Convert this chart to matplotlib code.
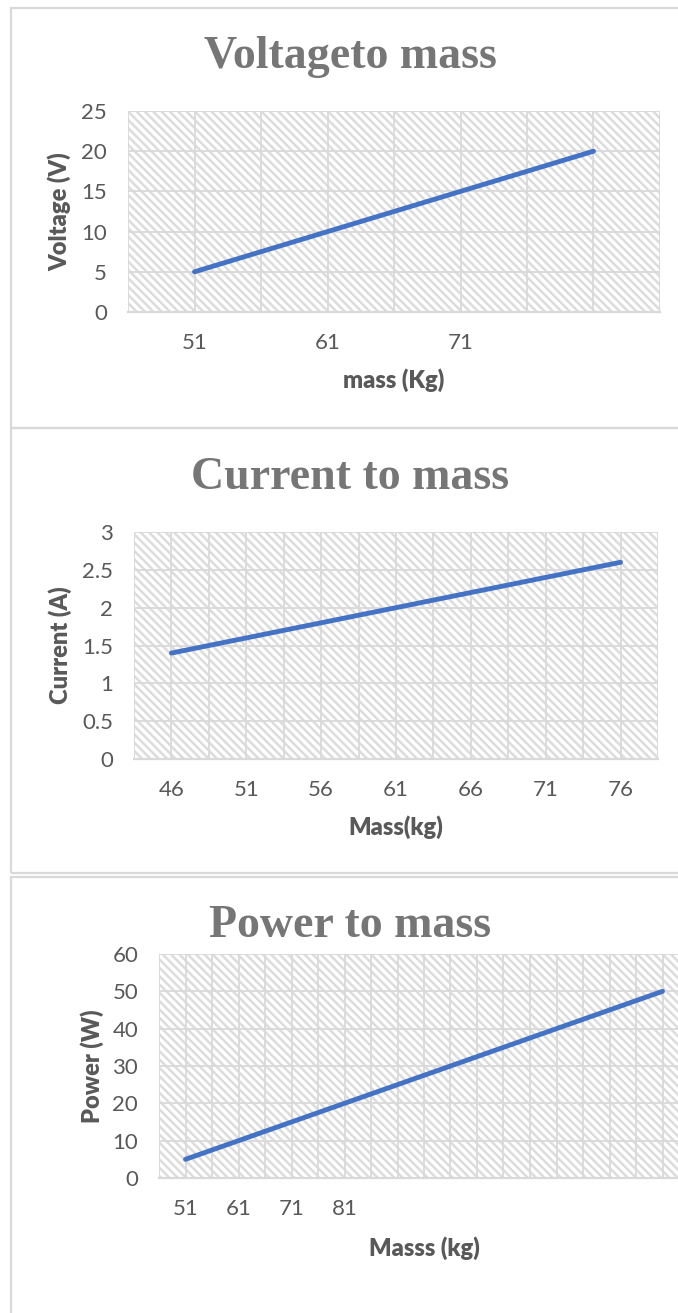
import matplotlib.pyplot as plt
from matplotlib.patches import Rectangle
import numpy as np

# data
mass_v = [51, 61, 71, 81]
voltage = [5, 10, 15, 20]
mass_c = [46, 51, 56, 61, 66, 71, 76]
current = [1.4, 1.6, 1.8, 2.0, 2.2, 2.4, 2.6]
mass_p = [51, 61, 71, 81, 91, 101, 111, 121, 131, 141]
power = [5, 10, 15, 20, 25, 30, 35, 40, 45, 50]

v_xticks = [51, 61, 71]
c_xticks = [46, 51, 56, 61, 66, 71, 76]
p_xticks = [51, 61, 71, 81]

plt.rcParams['hatch.color'] = '#dcdcdc'
plt.rcParams['hatch.linewidth'] = 1.8

blue = '#4472C4'
grey_txt = '#595959'
grid_c = '#d9d9d9'
sans = ['Lato', 'DejaVu Sans']
hatch = chr(92) * 4   # dense "\" stripes like the Excel pattern fill

fig = plt.figure(figsize=(6.78, 13.13), dpi=100)

# chart area borders (pixels -> figure fraction)
W, H = 678.0, 1313.0
def border(x0, y0, x1, y1):
    r = Rectangle((x0 / W, 1 - y1 / H), (x1 - x0) / W, (y1 - y0) / H,
                  transform=fig.transFigure, fill=False, edgecolor=grid_c,
                  linewidth=1.6)
    fig.add_artist(r)

border(11, 8, 700, 428)
border(11, 428, 700, 873)
border(11, 877, 700, 1330)


def make_chart(rect, x, y, xlim, xgrid, xticks, ylim, ystep, title, title_y,
               xlabel, ylabel, xlab_y, ylab_x):
    ax = fig.add_axes(rect)
    ax.add_patch(Rectangle((0, 0), 1, 1, transform=ax.transAxes, facecolor='white',
                           edgecolor='#dcdcdc', hatch=hatch, linewidth=0, zorder=0))
    ax.plot(x, y, color=blue, linewidth=3.5, solid_capstyle='round', zorder=3)
    ax.set_xlim(xlim)
    ax.set_ylim(ylim)
    ax.set_xticks(xgrid, minor=True)
    ax.set_xticks(xticks)
    ax.set_xticklabels([str(t) for t in xticks])
    yt = np.arange(ylim[0], ylim[1] + ystep / 2, ystep)
    ax.set_yticks(yt)
    ax.set_yticklabels(['%g' % t for t in yt])
    ax.set_axisbelow(True)
    ax.grid(True, which='both', color=grid_c, linewidth=1.3)
    for s in ['top', 'right', 'left']:
        ax.spines[s].set_visible(False)
    ax.spines['bottom'].set_color(grid_c)
    ax.spines['bottom'].set_linewidth(1.6)
    ax.tick_params(which='both', length=0)
    ax.tick_params(axis='x', pad=15, labelsize=16, labelcolor=grey_txt)
    ax.tick_params(axis='y', pad=15, labelsize=16, labelcolor=grey_txt)
    for lab in ax.get_xticklabels() + ax.get_yticklabels():
        lab.set_family(sans)
    ax.set_xlabel(xlabel, fontsize=17, fontweight='heavy', color=grey_txt,
                  family=sans, va='center')
    ax.xaxis.set_label_coords(0.5, xlab_y)
    ax.set_ylabel(ylabel, fontsize=17, fontweight='heavy', color=grey_txt,
                  family=sans, va='center')
    ax.yaxis.set_label_coords(ylab_x, 0.5)
    fig.text(350 / W, 1 - title_y / H, title, ha='center', va='baseline',
             fontsize=33, fontweight='bold', color='#767676',
             family=['Liberation Serif', 'DejaVu Serif'])
    return ax


#Chart 1: voltage
make_chart([128 / W, 1 - 312 / H, 532 / W, 201 / H], mass_v, voltage,
           (46, 86), np.arange(46, 87, 5), v_xticks, (0, 25), 5,
           'Voltageto mass', 68, 'mass (Kg)', 'Voltage (V)', -0.338, -0.128)

#Chart 2: current
make_chart([134 / W, 1 - 759 / H, 524 / W, 227 / H], mass_c, current,
           (43.5, 78.5), np.arange(43.5, 79, 2.5), c_xticks, (0, 3), 0.5,
           'Current to mass', 489, 'Mass(kg)', 'Current (A)', -0.30, -0.141)

#Chart 3: power (plot area runs past the right edge)
make_chart([159 / W, 1 - 1178 / H, 530 / W, 224 / H], mass_p, power,
           (46, 146), np.arange(46, 147, 5), p_xticks, (0, 60), 10,
           'Power to mass', 937, 'Masss (kg)', 'Power (W)', -0.3125, -0.126)

fig.savefig('out.png', dpi=100)
